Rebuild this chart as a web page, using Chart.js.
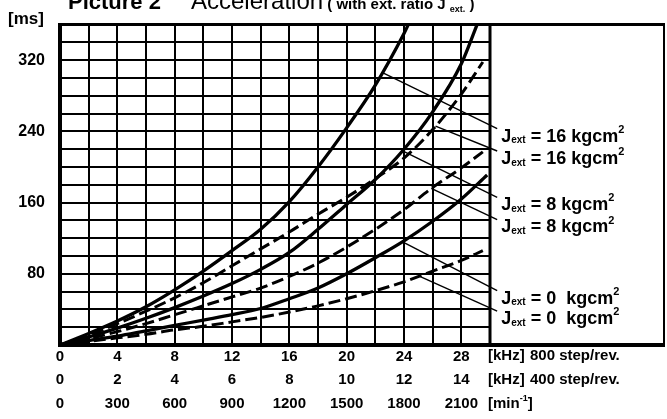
<!DOCTYPE html>
<html>
<head>
<meta charset="utf-8">
<script src="https://cdn.jsdelivr.net/npm/chart.js@4.4.1/dist/chart.umd.min.js"></script>
<style>
  html, body { margin: 0; padding: 0; background: #fff; }
  #wrap { width: 667px; height: 419px; position: relative; }
</style>
</head>
<body>
<div id="wrap"><canvas id="graph"></canvas></div>
<script>
// acceleration time [ms] over pulse rate [kHz, 800 step/rev]
// pairs are [kHz, ms]; solid and dashed curve for each J ext
const j16Solid  = [[0,0],[2,13],[4,27],[6,43],[8,62],[10,83],[12,106],[14,130],[16,161],[18,200],[20,244],[22,292],[24,350],[24.3,360]];
const j16Dashed = [[0,0],[2,11],[4,24],[6,38],[8,53],[10,70],[12,89],[14,108],[16,127],[18,147],[20,166],[22,187],[24,210],[26,242],[28,282],[29.5,318]];
const j8Solid   = [[0,0],[2,9],[4,19],[6,30],[8,42],[10,55],[12,69],[14,85],[16,104],[18,130],[20,158],[22,186],[24,220],[26,262],[28,316],[29.1,360]];
const j8Dashed  = [[0,0],[2,7],[4,15],[6,24],[8,34],[10,44],[12,54],[14,64],[16,77],[18,92],[20,110],[22,130],[24,152],[26,177],[28,199],[29.5,217]];
const j0Solid   = [[0,0],[2,5],[4,10],[6,16],[8,22],[10,28],[12,34],[14,41],[16,52],[18,64],[20,80],[22,98],[24,117],[26,139],[28,164],[29.8,191]];
const j0Dashed  = [[0,0],[2,4],[4,8],[6,12],[8,17],[10,21],[12,26],[14,31],[16,37],[18,44],[20,52],[22,61],[24,71],[26,83],[28,95],[29.5,106]];

// thin pointer lines from a curve to its label in the right box
const leaderOnCurve = [[22.5,306],[26.2,246],[23.9,218],[25.9,176],[23.9,116],[25.1,77]];
const leaderAtLabel = [[30.5,243],[30.5,218],[30.5,166],[30.5,141],[30.5,61],[30.5,38]];
const jValues = ['16', '16', '8', '8', '0 ', '0 '];

// tick labels
const khz800Ticks = ['0','4','8','12','16','20','24','28'];
const khz400Ticks = ['0','2','4','6','8','10','12','14'];
const rpmTicks    = ['0','300','600','900','1200','1500','1800','2100'];
const msTicks     = [80, 160, 240, 320];

const SANS = "'Liberation Sans', Arial, sans-serif";

function toXY(pairs) {
  return pairs.map(p => ({ x: p[0], y: p[1] }));
}

function curve(pairs, dashed) {
  return {
    data: toXY(pairs),
    borderColor: '#000',
    borderWidth: dashed ? 3 : 3.3,
    borderDash: dashed ? [12, 5] : [],
    pointRadius: 0,
    cubicInterpolationMode: 'monotone',
    fill: false
  };
}

const datasets = [
  curve(j16Solid, false), curve(j16Dashed, true),
  curve(j8Solid, false), curve(j8Dashed, true),
  curve(j0Solid, false), curve(j0Dashed, true)
];
leaderOnCurve.forEach((p, i) => {
  datasets.push({
    data: toXY([p, leaderAtLabel[i]]),
    borderColor: '#000',
    borderWidth: 1.4,
    pointRadius: 0,
    tension: 0,
    clip: false
  });
});

function line(ctx, x1, y1, x2, y2) {
  ctx.beginPath();
  ctx.moveTo(x1, y1);
  ctx.lineTo(x2, y2);
  ctx.stroke();
}

// draws text pieces one after another, each [text, font, dy]
function runText(ctx, x, y, parts) {
  parts.forEach(p => {
    ctx.font = p[1];
    ctx.fillText(p[0], x, y + (p[2] || 0));
    x += ctx.measureText(p[0]).width;
  });
}

const annotate = {
  id: 'annotate',
  afterDraw(chart) {
    const { ctx, chartArea: a, scales } = chart;
    const boxRight = chart.width - 3;
    ctx.save();
    ctx.strokeStyle = '#000';
    ctx.fillStyle = '#000';

    // outer frame and the split between grid and label box
    ctx.lineWidth = 3;
    line(ctx, a.left - 2, a.top, boxRight + 1, a.top);
    line(ctx, a.right, a.top, a.right, a.bottom);
    ctx.lineWidth = 4;
    line(ctx, a.left - 2, a.bottom, boxRight + 1, a.bottom);
    line(ctx, a.left, a.top, a.left, a.bottom + 2);
    ctx.lineWidth = 2;
    line(ctx, boxRight, a.top, boxRight, a.bottom);

    // title, cut at the top like the scan
    ctx.textBaseline = 'alphabetic';
    ctx.textAlign = 'left';
    runText(ctx, 68, 9, [['Picture 2', 'bold 22px ' + SANS]]);
    runText(ctx, 191, 9, [
      ['Acceleration', '24px ' + SANS],
      [' ( with ext. ratio J ', 'bold 15px ' + SANS],
      ['ext.', 'bold 9px ' + SANS, 3],
      [' )', 'bold 15px ' + SANS]
    ]);

    // y unit
    ctx.textBaseline = 'middle';
    runText(ctx, 8, 19, [['[ms]', 'bold 17px ' + SANS]]);

    // x units, one per tick row
    const ux = scales.x.getPixelForValue(30) - 2;
    const rowY = [a.bottom + 11, a.bottom + 35, a.bottom + 59];
    runText(ctx, ux, rowY[0], [['[kHz]', 'bold 15px ' + SANS]]);
    runText(ctx, ux + 42, rowY[0], [['800 step/rev.', 'bold 15px ' + SANS]]);
    runText(ctx, ux, rowY[1], [['[kHz]', 'bold 15px ' + SANS]]);
    runText(ctx, ux + 42, rowY[1], [['400 step/rev.', 'bold 15px ' + SANS]]);
    runText(ctx, ux, rowY[2], [
      ['[min', 'bold 15px ' + SANS],
      ['-1', 'bold 9px ' + SANS, -5],
      [']', 'bold 15px ' + SANS]
    ]);

    // curve labels at the end of each pointer line
    leaderAtLabel.forEach((p, i) => {
      const lx = scales.x.getPixelForValue(p[0]) + 4;
      const ly = scales.y.getPixelForValue(p[1]) + 8;
      runText(ctx, lx, ly, [
        ['J', 'bold 18px ' + SANS],
        ['ext', 'bold 10px ' + SANS, 4],
        [' = ' + jValues[i] + ' kgcm', 'bold 18px ' + SANS],
        ['2', 'bold 11px ' + SANS, -7]
      ]);
    });
    ctx.restore();
  }
};

new Chart(document.getElementById('graph'), {
  type: 'line',
  data: { datasets: datasets },
  plugins: [annotate],
  options: {
    responsive: true,
    maintainAspectRatio: false,
    animation: false,
    events: [],
    layout: { padding: { top: 21, right: 177, left: 0, bottom: 0 } },
    plugins: {
      legend: { display: false },
      tooltip: { enabled: false }
    },
    scales: {
      x: {
        type: 'linear',
        min: 0,
        max: 30,
        afterFit: s => { s.height = 74; },
        border: { display: false },
        grid: { color: '#000', lineWidth: 2, drawTicks: false },
        ticks: {
          stepSize: 2,
          autoSkip: false,
          maxRotation: 0,
          padding: 0,
          color: '#000',
          font: { family: SANS, size: 15, weight: 'bold', lineHeight: 1.57 },
          callback: v => {
            const i = v / 4;
            if (!Number.isInteger(i) || i >= khz800Ticks.length) return '';
            return [khz800Ticks[i], khz400Ticks[i], rpmTicks[i]];
          }
        }
      },
      y: {
        type: 'linear',
        min: 0,
        max: 360,
        afterFit: s => { s.width = 60; },
        border: { display: false },
        grid: { color: '#000', lineWidth: 2, drawTicks: false },
        ticks: {
          stepSize: 20,
          autoSkip: false,
          padding: 15,
          color: '#000',
          font: { family: SANS, size: 16, weight: 'bold' },
          callback: v => msTicks.includes(v) ? String(v) : ''
        }
      }
    }
  }
});
</script>
</body>
</html>
